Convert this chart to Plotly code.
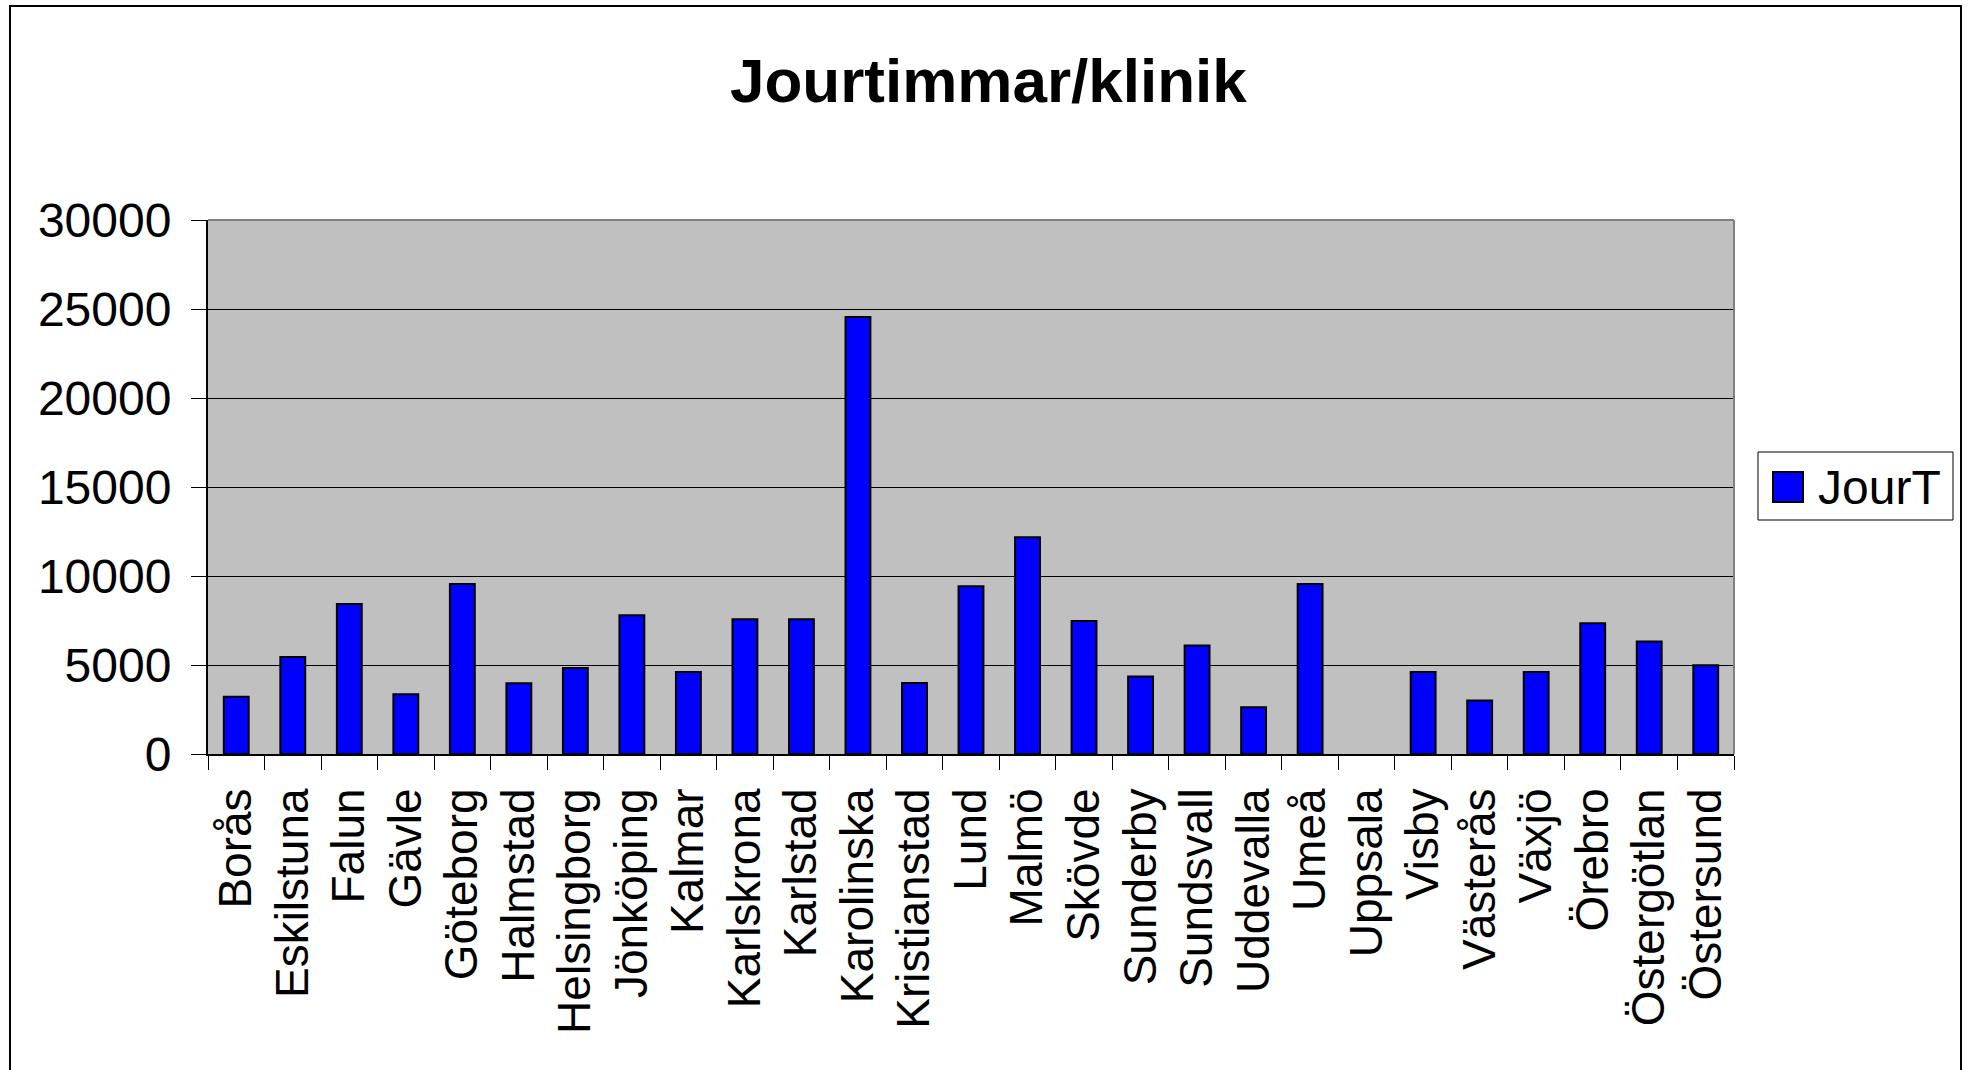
import plotly.graph_objects as go

# Clinics and on-call hours per clinic
clinics = [
    "Borås", "Eskilstuna", "Falun", "Gävle", "Göteborg", "Halmstad",
    "Helsingborg", "Jönköping", "Kalmar", "Karlskrona", "Karlstad",
    "Karolinska", "Kristianstad", "Lund", "Malmö", "Skövde", "Sunderby",
    "Sundsvall", "Uddevalla", "Umeå", "Uppsala", "Visby", "Västerås",
    "Växjö", "Örebro", "Östergötlan", "Östersund",
]
jour_hours = [
    3220, 5450, 8420, 3350, 9550, 3980,
    4830, 7800, 4600, 7570, 7570,
    24550, 3990, 9420, 12170, 7470, 4350,
    6100, 2620, 9550, 0, 4600, 3000,
    4600, 7340, 6320, 4990,
]
series_name = "JourT"
y_ticks = [0, 5000, 10000, 15000, 20000, 25000, 30000]
chart_title = "Jourtimmar/klinik"

W, H = 1968, 1070
L, R, T, B = 208, 1734, 220, 754
FONT = "Liberation Sans, Arial, sans-serif"


def px(xp):
    return (xp - L) / (R - L)


def py(yp):
    return (B - yp) / (B - T)


# no outline on empty bars
outline_widths = [2 if v > 0 else 0 for v in jour_hours]

fig = go.Figure()
fig.add_trace(go.Bar(
    x=clinics,
    y=jour_hours,
    name=series_name,
    marker=dict(color="#0000FF", line=dict(color="#000000", width=outline_widths)),
    showlegend=False,
))

shapes = [
    # outer chart frame
    dict(type="rect", xref="paper", yref="paper",
         x0=px(10), x1=px(1961), y0=py(1080), y1=py(6),
         line=dict(color="#000000", width=2), layer="below"),
    # top and right edges of the plot area
    dict(type="line", xref="paper", yref="paper",
         x0=0, x1=1, y0=1, y1=1, line=dict(color="#808080", width=2)),
    dict(type="line", xref="paper", yref="paper",
         x0=1, x1=1, y0=0, y1=1, line=dict(color="#808080", width=2)),
    # legend box and swatch
    dict(type="rect", xref="paper", yref="paper",
         x0=px(1758), x1=px(1953), y0=py(520), y1=py(452),
         line=dict(color="#000000", width=1), fillcolor="#FFFFFF"),
    dict(type="rect", xref="paper", yref="paper",
         x0=px(1773), x1=px(1803), y0=py(502), y1=py(472),
         line=dict(color="#000000", width=2), fillcolor="#0000FF"),
]

annotations = [
    dict(text="<b>" + chart_title + "</b>", xref="paper", yref="paper",
         x=px(988), y=py(80), xanchor="center", yanchor="middle",
         showarrow=False, font=dict(family=FONT, size=62, color="#000000")),
    dict(text=series_name, xref="paper", yref="paper",
         x=px(1816), y=py(487), xanchor="left", yanchor="middle",
         showarrow=False, font=dict(family=FONT, size=48, color="#000000")),
]

fig.update_layout(
    width=W, height=H,
    margin=dict(l=L, r=W - R, t=T, b=H - B, pad=0),
    paper_bgcolor="#FFFFFF",
    plot_bgcolor="#C0C0C0",
    font=dict(family=FONT, size=46, color="#000000"),
    bargap=0.56,
    shapes=shapes,
    annotations=annotations,
    showlegend=False,
    xaxis=dict(
        type="category",
        tickangle=-90,
        tickson="boundaries",
        ticks="outside", ticklen=14, tickwidth=1, tickcolor="#000000",
        showline=True, linecolor="#000000", linewidth=2,
        showgrid=False,
        tickfont=dict(family=FONT, size=46, color="#000000"),
        automargin=False,
        ticklabelstandoff=14,
    ),
    yaxis=dict(
        range=[0, 30000],
        tickvals=y_ticks,
        ticktext=[str(v) for v in y_ticks],
        ticks="outside", ticklen=15, tickwidth=1, tickcolor="#000000",
        showline=True, linecolor="#000000", linewidth=2,
        showgrid=True, gridcolor="#000000", gridwidth=1,
        zeroline=False,
        tickfont=dict(family=FONT, size=48, color="#000000"),
        automargin=False,
        ticklabelstandoff=10,
    ),
)

fig.write_html("out.html")
